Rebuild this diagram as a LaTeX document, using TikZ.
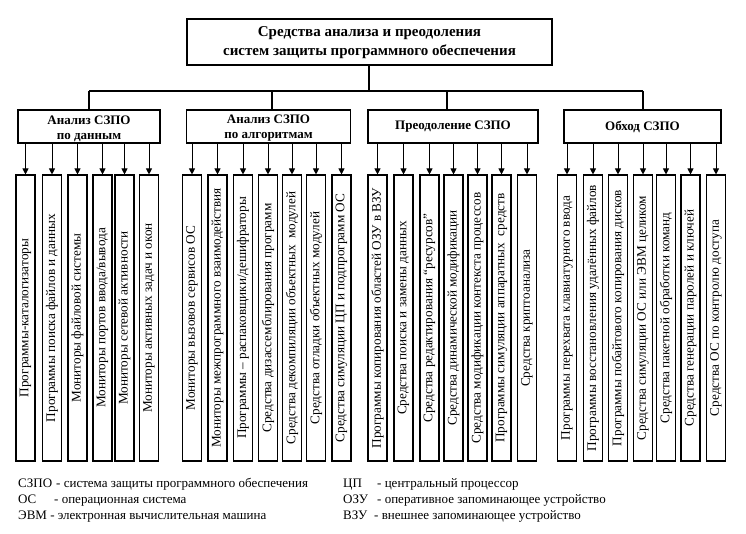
\documentclass[tikz,border=0pt]{standalone}
\usepackage{fontspec}
\setmainfont{Liberation Serif}
\usepackage{graphicx}
\usetikzlibrary{arrows.meta}
\newcommand{\topstrut}{\rule{0pt}{12.5pt}}
\tikzset{
  topbox/.style={draw, line width=1.3pt, minimum width=365pt, minimum height=46pt, align=center, inner sep=0pt, font=\fontsize{15}{19}\selectfont\bfseries},
  catbox/.style={draw, line width=1.1pt, minimum height=33pt, align=center, inner sep=0pt, font=\fontsize{13}{15}\selectfont\bfseries},
  colbox/.style={draw, line width=1.1pt, minimum width=19pt, minimum height=286pt, inner sep=0pt, font=\fontsize{13.2}{15}\selectfont},
  trunk/.style={line width=1.8pt},
  arr/.style={line width=0.9pt, -{Triangle[width=6pt,length=6pt]}},
  legend/.style={anchor=base west, inner sep=0pt, font=\fontsize{13}{15}\selectfont}
}
\begin{document}
\begin{tikzpicture}[x=1pt,y=-1pt]
\useasboundingbox (0,0) rectangle (746,534);
% title
\node[topbox] (top) at (369.5,42) {\strut Средства анализа и преодоления\\\strut систем защиты программного обеспечения};
% categories
\node[catbox, minimum width=142pt] (cat1) at (89,126.5) {\topstrut Анализ СЗПО\\по данным};
\node[catbox, minimum width=164pt] (cat2) at (268.5,126.5) {\topstrut Анализ СЗПО\\по алгоритмам};
\node[catbox, minimum width=170pt] (cat3) at (453,126.5) {Преодоление СЗПО};
\node[catbox, minimum width=157pt] (cat4) at (642.5,126.5) {Обход СЗПО};
% trunk
\coordinate (j0) at (369,91);
\coordinate (j1) at (89,91);
\coordinate (j2) at (272,91);
\coordinate (j3) at (447,91);
\coordinate (j4) at (643,91);
\draw[trunk] (top.south -| j0) -- (j0);
\draw[trunk] (j1) -- (j4);
\draw[trunk] (j1) -- (j1 |- cat1.north);
\draw[trunk] (j2) -- (j2 |- cat2.north);
\draw[trunk] (j3) -- (j3 |- cat3.north);
\draw[trunk] (j4) -- (j4 |- cat4.north);
% columns
\foreach \x/\t [count=\i] in {
 25.5/{Программы-каталогизаторы},
 52/{Программы поиска файлов и данных},
 77.5/{Мониторы файловой системы},
 102.5/{Мониторы портов ввода/вывода},
 124.5/{Мониторы сетевой активности},
 149/{Мониторы активных задач и окон}}{
  \node[colbox] (a\i) at (\x,318) {\rotatebox{90}{\t}};
  \draw[arr] (a\i |- cat1.south) -- (a\i.north);
}
\foreach \x/\t [count=\i] in {
 192/{Мониторы вызовов сервисов ОС},
 217.5/{Мониторы межпрограммного взаимодействия},
 243/{Программы – распаковщики/дешифраторы},
 268/{Средства дизассемблирования программ},
 292/{Средства декомпиляции объектных\ \ модулей},
 316/{Средства отладки объектных модулей},
 341.5/{Средства симуляции ЦП и подпрограмм ОС}}{
  \node[colbox] (b\i) at (\x,318) {\rotatebox{90}{\t}};
  \draw[arr] (b\i |- cat2.south) -- (b\i.north);
}
\foreach \x/\t [count=\i] in {
 377.5/{Программы копирования областей ОЗУ в ВЗУ},
 403.5/{Средства поиска и замены данных},
 429.5/{Средства редактирования “ресурсов”},
 453.5/{Средства динамической модификации},
 477.5/{Средства модификации контекста процессов},
 501.5/{Программы симуляции аппаратных\ \ средств},
 527/{Средства криптоанализа}}{
  \node[colbox] (c\i) at (\x,318) {\rotatebox{90}{\t}};
  \draw[arr] (c\i |- cat3.south) -- (c\i.north);
}
\foreach \x/\t [count=\i] in {
 567/{Программы перехвата клавиатурного ввода},
 593/{Программы восстановления удалённых файлов},
 618/{Программы побайтового копирования дисков},
 643/{Средства симуляции ОС или ЭВМ целиком},
 666/{Средства пакетной обработки команд},
 690.5/{Средства генерации паролей и ключей},
 716/{Средства ОС по контролю доступа}}{
  \node[colbox] (d\i) at (\x,318) {\rotatebox{90}{\t}};
  \draw[arr] (d\i |- cat4.south) -- (d\i.north);
}
% legend
\node[legend] (l1a) at (18,487) {СЗПО};
\node[legend] (l1b) at (56,487) {- система защиты программного обеспечения};
\node[legend] (l2a) at (18,503) {ОС};
\node[legend] (l2b) at (54,503) {- операционная система};
\node[legend] (l3a) at (18,519) {ЭВМ - электронная вычислительная машина};
\node[legend] (r1a) at (343,487) {ЦП};
\node[legend] (r1b) at (377,487) {- центральный процессор};
\node[legend] (r2a) at (343,503) {ОЗУ};
\node[legend] (r2b) at (377,503) {- оперативное запоминающее устройство};
\node[legend] (r3a) at (343,519) {ВЗУ};
\node[legend] (r3b) at (374,519) {- внешнее запоминающее устройство};
\end{tikzpicture}
\end{document}
